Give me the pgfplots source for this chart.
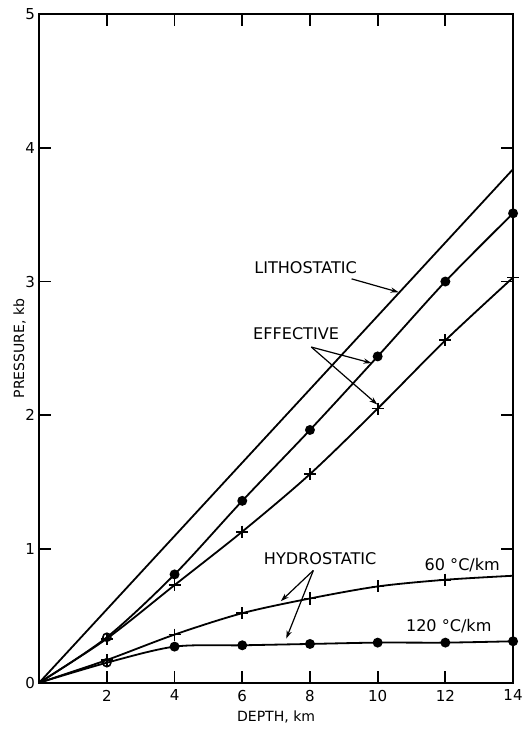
\documentclass[border=0pt]{standalone}
\usepackage{fontspec}
\setmainfont{DejaVu Sans}
\usepackage{pgfplots}
\usepackage{pgfplotstable}
\pgfplotsset{compat=1.18}
\usetikzlibrary{arrows.meta}

% Pressure (kb) against depth (km)
\pgfplotstableread{
x y
0 0
14 3.84
}\lithostatic

\pgfplotstableread{
x y
0 0
2 0.34
4 0.81
6 1.36
8 1.89
10 2.44
12 3.00
14 3.51
}\effdot

\pgfplotstableread{
x y
0 0
2 0.33
4 0.73
6 1.13
8 1.56
10 2.05
12 2.56
14 3.03
}\effcross

\pgfplotstableread{
x y
0 0
2 0.17
4 0.36
6 0.52
8 0.63
10 0.72
12 0.77
14 0.80
}\hydrosixty

\pgfplotstableread{
x y
0 0
2 0.15
4 0.27
6 0.28
8 0.29
10 0.30
12 0.30
14 0.31
}\hydrotwenty

\begin{document}
\begin{tikzpicture}
\begin{axis}[
  name=ax,
  scale only axis,
  width=236pt, height=333pt,
  xmin=0, xmax=14, ymin=0, ymax=5,
  xtick={2,4,...,14}, ytick={0,...,5},
  xtick pos=both, ytick pos=both,
  xticklabel pos=lower, yticklabel pos=left,
  tick align=inside,
  major tick length=6pt,
  axis line style={line width=0.9pt},
  every tick/.style={line width=0.9pt, black},
  tick label style={font=\fontsize{7.5}{9}\selectfont},
  yticklabel style={xshift=1.5pt},
  /pgf/number format/assume math mode=true,
  xlabel={DEPTH, km}, ylabel={PRESSURE, kb},
  label style={font=\fontsize{7}{8.5}\selectfont},
  xlabel style={yshift=2pt},
  ylabel shift=-7pt,
  clip=false,
  every axis plot/.append style={line width=0.9pt, black},
  dot/.style={mark=*, mark size=2pt, mark options={fill=black}},
  crs/.style={mark=+, mark size=3pt, mark options={line width=0.9pt}},
]
\addplot[no markers] table {\lithostatic};
\addplot[smooth, tension=0.5, dot, mark indices={3,...,8}] table {\effdot};
\addplot[smooth, tension=0.5, crs, mark indices={2,...,8}] table {\effcross};
\addplot[smooth, tension=0.5, crs, mark indices={2,...,7}] table {\hydrosixty};
\addplot[smooth, tension=0.5, dot, mark indices={3,...,8}] table {\hydrotwenty};
% open circles at 2 km where the curves overlap
\addplot[only marks, mark=o, mark size=2pt, mark options={line width=0.8pt}] coordinates {(2,0.34) (2,0.15)};

% labels and leaders
\begin{scope}[font=\fontsize{8}{9.6}\selectfont]
\node at (axis cs:7.87,3.10) {LITHOSTATIC};
\node at (axis cs:7.59,2.61) {EFFECTIVE};
\node at (axis cs:8.30,0.93) {HYDROSTATIC};
\node at (axis cs:12.5,0.88) {60 °C/km};
\node at (axis cs:12.1,0.42) {120 °C/km};
\end{scope}
\begin{scope}[line width=0.6pt, -{Stealth[length=4pt, width=2.6pt]}]
\draw (axis cs:9.23,3.02) -- (axis cs:10.62,2.92);
\draw (axis cs:8.04,2.51) -- (axis cs:9.82,2.39);
\draw (axis cs:8.04,2.51) -- (axis cs:9.99,2.08);
\draw (axis cs:8.10,0.84) -- (axis cs:7.14,0.61);
\draw (axis cs:8.10,0.84) -- (axis cs:7.30,0.33);
\end{scope}
\end{axis}
\path (ax.south west) ++(-19.5pt,-22pt) coordinate (bl);
\path (ax.north east) ++(5pt,7pt) coordinate (tr);
\path (bl) rectangle (tr);
\end{tikzpicture}
\end{document}
